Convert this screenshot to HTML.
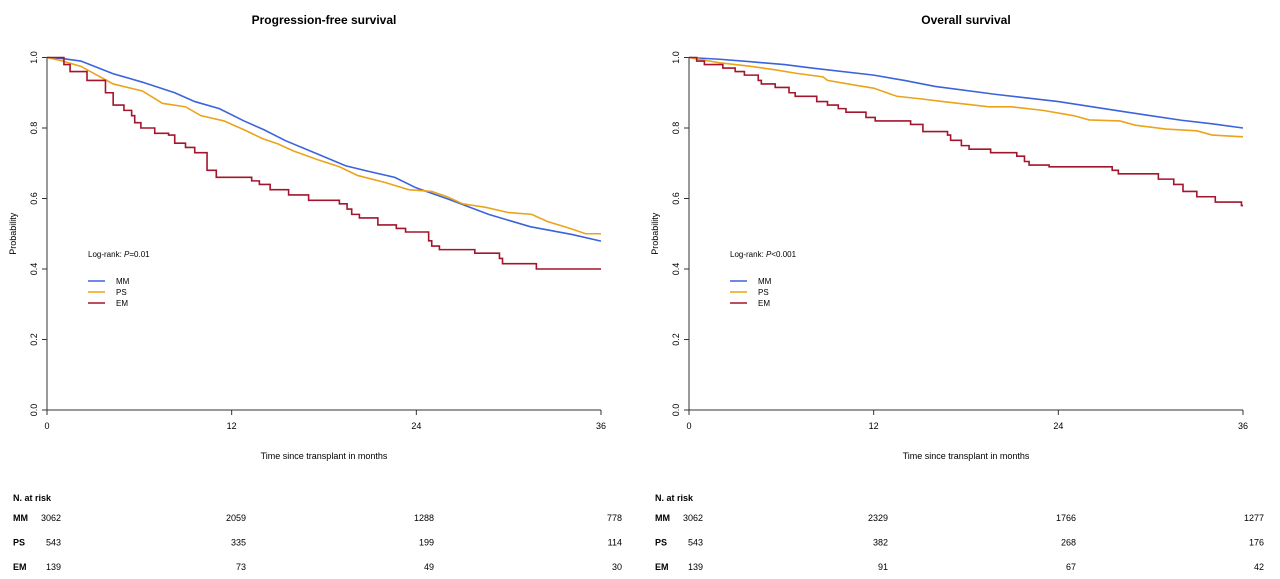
<!DOCTYPE html>
<html><head><meta charset="utf-8"><style>
body{margin:0;background:#fff}
svg{display:block;font-family:"Liberation Sans",sans-serif}
</style></head><body>
<svg id="c" width="1280" height="579" viewBox="0 0 1280 579"></svg>
<script>
const months=[0,12,24,36];
const yTicks=[0,0.2,0.4,0.6,0.8,1.0];
const seriesNames=["MM","PS","EM"];
const pfsMM=[[0,1],[1,0.997],[2.2,0.99],[4.3,0.954],[6.2,0.93],[8.3,0.9],[9.6,0.875],[11.2,0.855],[12.8,0.82],[14.1,0.795],[15.5,0.764],[17.6,0.726],[19.4,0.693],[20.8,0.678],[22.6,0.66],[24,0.63],[26.1,0.598],[28.7,0.555],[31.4,0.52],[34.1,0.498],[36,0.479]];
const pfsPS=[[0,1],[1,0.99],[2.2,0.975],[4.3,0.925],[6.2,0.905],[7.5,0.87],[9,0.86],[10,0.835],[11.5,0.82],[12.8,0.795],[14,0.77],[15,0.755],[16,0.735],[17.6,0.71],[19,0.69],[20.2,0.665],[22,0.645],[23.5,0.625],[25,0.62],[26,0.605],[27,0.585],[28.5,0.575],[30,0.56],[31.5,0.555],[32.5,0.535],[34,0.515],[35,0.5],[36,0.5]];
const pfsEM=[[0,1],[1.1,0.98],[1.5,0.96],[2.6,0.935],[3.8,0.9],[4.3,0.865],[5,0.85],[5.5,0.835],[5.7,0.815],[6.1,0.8],[7,0.785],[7.9,0.78],[8.3,0.757],[9,0.745],[9.6,0.73],[10.4,0.68],[11,0.66],[13.3,0.65],[13.8,0.64],[14.5,0.625],[15.7,0.61],[17,0.595],[19,0.585],[19.5,0.57],[19.8,0.555],[20.3,0.545],[21.5,0.525],[22.7,0.515],[23.3,0.505],[24.8,0.48],[25,0.465],[25.5,0.455],[27.8,0.445],[29.4,0.43],[29.6,0.415],[31.8,0.4],[36,0.4]];
const osMM=[[0,1],[2,0.995],[4,0.988],[6.2,0.98],[8,0.97],[12,0.95],[14,0.935],[16,0.918],[20,0.895],[24,0.875],[28,0.848],[30,0.835],[32,0.822],[34,0.812],[36,0.8]];
const osPS=[[0,1],[2,0.985],[4,0.975],[5.6,0.965],[7,0.955],[8.7,0.945],[9,0.935],[11,0.92],[12,0.913],[13.5,0.89],[15,0.883],[16.5,0.875],[19.5,0.86],[21,0.86],[23,0.85],[25,0.835],[26,0.823],[28,0.82],[29,0.808],[31,0.797],[33,0.792],[34,0.78],[36,0.775]];
const osEM=[[0,1],[0.5,0.99],[1,0.98],[2.2,0.97],[3,0.96],[3.6,0.95],[4.5,0.935],[4.7,0.925],[5.6,0.915],[6.5,0.9],[6.9,0.89],[8.3,0.875],[9,0.865],[9.7,0.855],[10.2,0.845],[11.5,0.83],[12.1,0.82],[14.4,0.81],[15.2,0.79],[16.8,0.78],[17,0.765],[17.7,0.75],[18.2,0.74],[19.6,0.73],[21.3,0.72],[21.8,0.705],[22.1,0.695],[23.4,0.69],[27.5,0.68],[27.9,0.67],[30.5,0.655],[31.5,0.64],[32.1,0.62],[33,0.605],[34.2,0.59],[35.9,0.58],[36,0.58]];
const pfsRisk=[[3062,2059,1288,778],[543,335,199,114],[139,73,49,30]];
const osRisk=[[3062,2329,1766,1277],[543,382,268,176],[139,91,67,42]];
const colors=["#3b63dc","#eba31a","#a3152c"];
const NS="http://www.w3.org/2000/svg";
const svg=document.getElementById('c');
function mk(tag,attrs,parent,text){const e=document.createElementNS(NS,tag);for(const k in attrs)e.setAttribute(k,attrs[k]);if(text!==undefined)e.textContent=text;(parent||svg).appendChild(e);return e;}
function panel(x0,x1,title,series,step,pval,risk,key){
  const y0=410,y1=57.5;
  const sx=v=>x0+(x1-x0)*v/36, sy=v=>y0+(y1-y0)*v;
  const g=mk('g',{});
  
  
  let t=mk('text',{x:(x0+x1)/2,y:24,'text-anchor':'middle','font-size':12,'font-weight':'bold'},g,title);
  
  let a=mk('path',{d:`M${x0},${sy(0)}V${sy(1)}M${x0},${y0}H${x1}`,stroke:'#333',fill:'none','stroke-width':1},g);
  
  yTicks.forEach(v=>{mk('line',{x1:x0-5,x2:x0,y1:sy(v),y2:sy(v),stroke:'#333'},g);
    const tt=mk('text',{x:0,y:0,'font-size':9,'text-anchor':'middle',transform:`translate(${x0-10},${sy(v)}) rotate(-90)`},g,v.toFixed(1));
    });
  months.forEach(m=>{mk('line',{x1:sx(m),x2:sx(m),y1:y0,y2:y0+5,stroke:'#333'},g);
    const tt=mk('text',{x:sx(m),y:y0+19,'font-size':9,'text-anchor':'middle'},g,m);
    });
  t=mk('text',{x:0,y:0,'font-size':9,'text-anchor':'middle',transform:`translate(${x0-31},${(y0+y1)/2}) rotate(-90)`},g,'Probability');
  
  t=mk('text',{x:(x0+x1)/2,y:459,'font-size':9,'text-anchor':'middle'},g,'Time since transplant in months');
  
  series.forEach((s,i)=>{let d='';s.forEach((p,j)=>{if(j==0)d+=`M${sx(p[0])},${sy(p[1])}`;else if(step[i])d+=`H${sx(p[0])}V${sy(p[1])}`;else d+=`L${sx(p[0])},${sy(p[1])}`;});
    const l=mk('path',{d:d,stroke:colors[i],fill:'none','stroke-width':1.6},g);
    });
  const lt=mk('text',{x:x0+41,y:257,'font-size':8},g);
  
  mk('tspan',{},lt,'Log-rank: ');mk('tspan',{'font-style':'italic'},lt,'P');mk('tspan',{},lt,pval);
  seriesNames.forEach((n,i)=>{const yy=281+i*11;
    const le=mk('g',{},g);
    mk('line',{x1:x0+41,x2:x0+58,y1:yy,y2:yy,stroke:colors[i],'stroke-width':1.6},le);
    mk('text',{x:x0+69,y:yy+3,'font-size':8},le,n);});
  t=mk('text',{x:x0-34,y:501,'font-size':9,'font-weight':'bold'},g,'N. at risk');
  
  const rx=[x0+14,x0+199,x0+387,x0+575];
  risk.forEach((row,i)=>{const yy=521+i*24.5;
    const rl=mk('text',{x:x0-34,y:yy,'font-size':9,'font-weight':'bold'},g,seriesNames[i]);
    
    row.forEach((v,j)=>{const c=mk('text',{x:rx[j],y:yy,'font-size':9,'text-anchor':'end'},g,v);
      });});
}
panel(47,601,'Progression-free survival',[pfsMM,pfsPS,pfsEM],[false,false,true],'=0.01',pfsRisk,'pfs');
panel(689,1243,'Overall survival',[osMM,osPS,osEM],[false,false,true],'<0.001',osRisk,'os');
</script>
</body></html>
